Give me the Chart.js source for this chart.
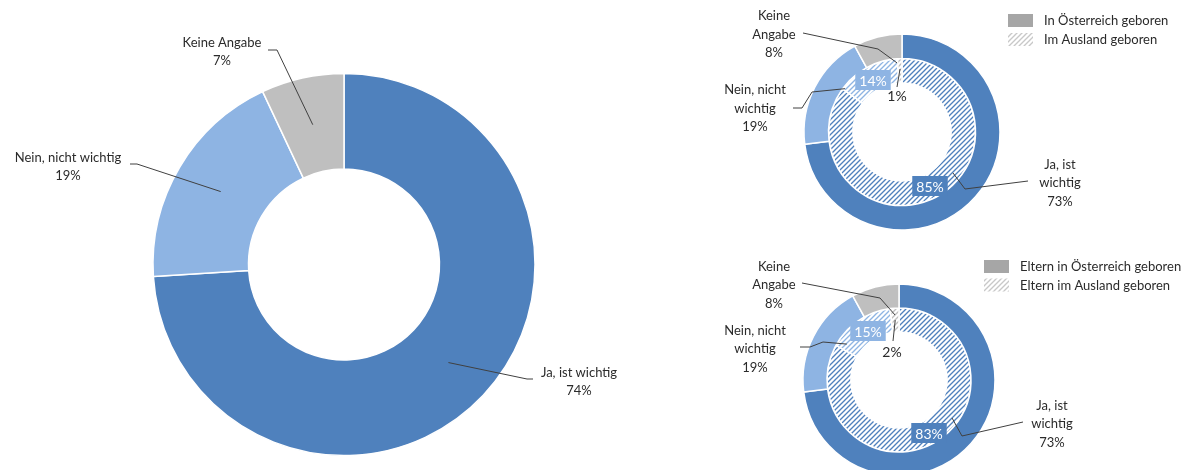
<!DOCTYPE html>
<html lang="de">
<head>
<meta charset="utf-8">
<title>Wichtigkeit</title>
<script src="https://cdn.jsdelivr.net/npm/chart.js@4.4.0/dist/chart.umd.min.js"></script>
<style>
  html, body { margin: 0; padding: 0; background: #fff; overflow: hidden; }
  body { width: 1199px; height: 470px; position: relative; }
  canvas { position: absolute; left: 0; top: 0; }
</style>
</head>
<body>
<canvas id="gesamt" width="1199" height="470"></canvas>
<canvas id="geburtsland" width="1199" height="470"></canvas>
<canvas id="eltern" width="1199" height="500"></canvas>
<script>
// Data
const categories = ['Ja, ist wichtig', 'Nein, nicht wichtig', 'Keine Angabe'];
const gesamt = [74, 19, 7];
const inOesterreich = [73, 19, 8];
const imAusland = [85, 14, 1];
const elternInOesterreich = [73, 19, 8];
const elternImAusland = [83, 15, 2];
const colors = ['#4F81BD', '#8EB4E3', '#BFBFBF'];

const FONT = 'Lato, "Open Sans", sans-serif';
const TEXT = '#2b2b2b';

// diagonal hatch: coloured stripes on white
function hatch(ctx, color) {
    const s = 5;
    const c = document.createElement('canvas');
    c.width = s; c.height = s;
    const g = c.getContext('2d');
    g.fillStyle = '#fff';
    g.fillRect(0, 0, s, s);
    g.strokeStyle = color;
    g.lineWidth = 1.35;
    g.beginPath();
    g.moveTo(-1, s + 1); g.lineTo(s + 1, -1);
    g.moveTo(-1, 1); g.lineTo(1, -1);
    g.moveTo(s - 1, s + 1); g.lineTo(s + 1, s - 1);
    g.stroke();
    return ctx.createPattern(c, 'repeat');
}

function wrap(ctx, text, maxW) {
    const words = text.split(' ');
    const lines = [];
    let cur = '';
    words.forEach(w => {
        const t = cur ? cur + ' ' + w : w;
        if (cur && ctx.measureText(t).width > maxW) {
            lines.push(cur);
            cur = w;
        } else {
            cur = t;
        }
    });
    if (cur) lines.push(cur);
    return lines;
}

// Labels with leader lines + legend
const callouts = {
    id: 'callouts',
    afterDatasetsDraw(chart, args, opts) {
        const ctx = chart.ctx;
        const R = chart.getDatasetMeta(0).data[0].outerRadius;
        ctx.save();
        opts.items.forEach(it => {
            const arc = chart.getDatasetMeta(it.ds).data[it.i];
            const p = arc.getProps(['x', 'y', 'startAngle', 'endAngle'], true);
            const ang = p.startAngle + it.f * (p.endAngle - p.startAngle);
            const ax = p.x + Math.cos(ang) * it.r * R;
            const ay = p.y + Math.sin(ang) * it.r * R;
            const value = chart.data.datasets[it.ds].data[it.i] + '%';

            if (it.line) {
                ctx.strokeStyle = '#404040';
                ctx.lineWidth = 1;
                ctx.beginPath();
                it.line.forEach((pt, k) => k ? ctx.lineTo(pt[0], pt[1]) : ctx.moveTo(pt[0], pt[1]));
                ctx.lineTo(ax, ay);
                ctx.stroke();
            }

            ctx.textAlign = 'center';
            ctx.textBaseline = 'middle';
            if (it.box) {
                ctx.font = opts.valueSize + 'px ' + FONT;
                const w = ctx.measureText(value).width + 8;
                const h = 20;
                ctx.fillStyle = colors[it.i];
                ctx.fillRect(it.x - w / 2, it.y - h / 2, w, h);
                ctx.fillStyle = '#fff';
                ctx.fillText(value, it.x, it.y + 1);
                return;
            }
            let lines;
            if (it.name) {
                ctx.font = opts.size + 'px ' + FONT;
                lines = wrap(ctx, chart.data.labels[it.i], opts.wrapWidth);
                lines.push(value);
            } else {
                ctx.font = opts.valueSize + 'px ' + FONT;
                lines = [value];
            }
            ctx.fillStyle = TEXT;
            const y0 = it.y - (lines.length - 1) * opts.lineHeight / 2;
            lines.forEach((l, k) => ctx.fillText(l, it.x, y0 + k * opts.lineHeight));
        });

        if (opts.legend) {
            const lg = opts.legend;
            ctx.font = opts.size + 'px ' + FONT;
            ctx.textAlign = 'left';
            ctx.textBaseline = 'middle';
            chart.data.datasets.forEach((ds, k) => {
                const y = lg.y + k * lg.gap;
                ctx.fillStyle = k === 0 ? '#A6A6A6' : hatch(ctx, '#C8C8C8');
                ctx.fillRect(lg.x, y, 25, 13);
                ctx.fillStyle = TEXT;
                ctx.fillText(ds.label, lg.x + 36, y + 7);
            });
        }
        ctx.restore();
    }
};

function donut(id, datasets, padding, labelOpts) {
    const el = document.getElementById(id);
    return new Chart(el, {
        type: 'doughnut',
        data: { labels: categories, datasets: datasets },
        options: {
            responsive: false,
            animation: false,
            events: [],
            cutout: '50%',
            layout: { padding: padding },
            plugins: {
                legend: { display: false },
                tooltip: { enabled: false },
                callouts: labelOpts
            }
        },
        plugins: [callouts]
    });
}

// Left: gesamt
donut('gesamt', [{
    label: 'Gesamt',
    data: gesamt,
    backgroundColor: colors,
    borderColor: '#fff',
    borderWidth: 1.5
}], { left: 152.25, right: 663.25, top: 72.75, bottom: 13.75 }, {
    size: 13, valueSize: 13, lineHeight: 18, wrapWidth: 300,
    items: [
        { ds: 0, i: 0, name: true, x: 579, y: 382, f: 0.5, r: 0.75, line: [[533, 379], [527, 379]] },
        { ds: 0, i: 1, name: true, x: 68, y: 167, f: 0.5, r: 0.75, line: [[130, 164], [137, 164]] },
        { ds: 0, i: 2, name: true, x: 222, y: 52, f: 0.5, r: 0.75, line: [[268, 50], [277, 50]] }
    ]
});

// Right top: Geburtsland
const ctx1 = document.getElementById('geburtsland').getContext('2d');
donut('geburtsland', [{
    label: 'In Österreich geboren',
    data: inOesterreich,
    backgroundColor: colors,
    borderColor: '#fff',
    borderWidth: 1.5
}, {
    label: 'Im Ausland geboren',
    data: imAusland,
    backgroundColor: colors.map(c => hatch(ctx1, c)),
    borderColor: '#fff',
    borderWidth: 1.5
}], { left: 803.25, right: 198.25, top: 33.25, bottom: 239.25 }, {
    size: 13, valueSize: 14, lineHeight: 18.5, wrapWidth: 72,
    legend: { x: 1008, y: 14, gap: 19 },
    items: [
        { ds: 0, i: 2, name: true, x: 774, y: 34.5, f: 0.86, r: 0.706, line: [[803, 33], [878, 49]] },
        { ds: 0, i: 1, name: true, x: 755, y: 108.5, f: 0.65, r: 0.73, line: [[793, 108], [802, 108], [812, 92]] },
        { ds: 0, i: 0, name: true, x: 1060, y: 183, f: 0.49, r: 0.667, line: [[1028, 181], [965, 189]] },
        { ds: 1, i: 1, box: true, x: 873, y: 80 },
        { ds: 1, i: 2, x: 897, y: 96, f: 0.5, r: 0.643, line: [[897, 87]] },
        { ds: 1, i: 0, box: true, x: 930, y: 186 }
    ]
});

// Right bottom: Geburtsland der Eltern
const ctx2 = document.getElementById('eltern').getContext('2d');
donut('eltern', [{
    label: 'Eltern in Österreich geboren',
    data: elternInOesterreich,
    backgroundColor: colors,
    borderColor: '#fff',
    borderWidth: 1.5
}, {
    label: 'Eltern im Ausland geboren',
    data: elternImAusland,
    backgroundColor: colors.map(c => hatch(ctx2, c)),
    borderColor: '#fff',
    borderWidth: 1.5
}], { left: 802.25, right: 203.25, top: 283.25, bottom: 23.25 }, {
    size: 13, valueSize: 14, lineHeight: 18.5, wrapWidth: 72,
    legend: { x: 984, y: 260, gap: 18.5 },
    items: [
        { ds: 0, i: 2, name: true, x: 774, y: 285, f: 0.88, r: 0.678, line: [[802, 283], [880, 298]] },
        { ds: 0, i: 1, name: true, x: 755, y: 349, f: 0.61, r: 0.66, line: [[800, 347], [810, 347], [823, 342]] },
        { ds: 0, i: 0, name: true, x: 1052, y: 424, f: 0.478, r: 0.68, line: [[1023, 422], [962, 436]] },
        { ds: 1, i: 1, box: true, x: 868, y: 331 },
        { ds: 1, i: 2, x: 892, y: 352, f: 0.5, r: 0.625, line: [[893, 341]] },
        { ds: 1, i: 0, box: true, x: 929, y: 433 }
    ]
});
</script>
</body>
</html>
